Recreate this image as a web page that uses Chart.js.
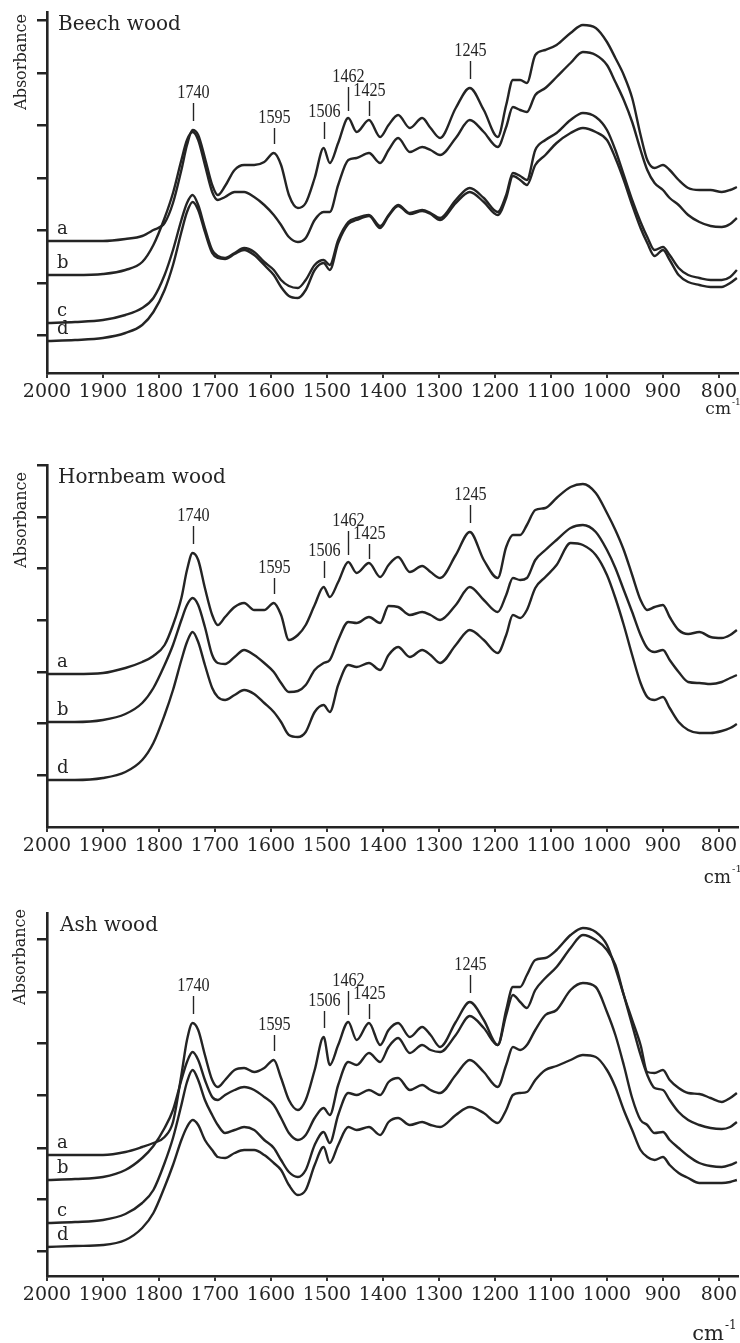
<!DOCTYPE html>
<html>
<head>
<meta charset="utf-8">
<script src="https://cdn.jsdelivr.net/npm/chart.js@4.4.1/dist/chart.umd.min.js"></script>
<style>
  html, body { margin:0; padding:0; background:#fff; }
  body { width:740px; height:1343px; position:relative; overflow:hidden; }
  canvas { position:absolute; left:0; }
</style>
</head>
<body>
<canvas id="c1" width="740" height="430" style="top:0px"></canvas>
<canvas id="c2" width="740" height="460" style="top:430px"></canvas>
<canvas id="c3" width="740" height="453" style="top:890px"></canvas>
<script>
// Wavenumbers (cm-1) shared by every spectrum
const wavenumbers = [2000,1950,1900,1860,1830, 1810,1790,1775,1760,1750, 1740,1730,1718,1705,1695, 1682,1665,1648,1630,1612,
  1595,1582,1568,1552,1538, 1522,1506,1495,1480,1462, 1447,1425,1405,1390,1373, 1352,1330,1315,1298,1270,
  1245,1220,1195,1180,1168, 1155,1143,1128,1110,1090, 1065,1043,1020,1000,985, 970,955,940,928,915,
  900,888,872,855,835, 815,795,780,768];

// Relative absorbance (arbitrary units, offset spectra)
const beechA = [132,132,132,134,137, 143,150,170,203,228, 243,238,215,188,178, 187,203,208,208,211,
  220,208,178,165,170, 195,225,210,230,255, 241,253,236,248,258, 245,255,245,235,265,
  285,263,236,268,293, 293,290,318,323,328, 340,348,345,331,315, 298,275,238,213,205,
  208,203,193,185,183, 183,181,183,186];
const beechB = [98,98,99,103,111, 128,155,180,213,233, 241,233,208,181,173, 176,181,181,176,168,
  158,148,136,131,135, 153,161,161,188,213, 215,220,210,223,235, 221,226,223,218,235,
  253,241,226,246,266, 263,261,278,285,296, 310,321,318,308,291, 273,251,223,203,190,
  183,175,168,158,151, 147,146,149,155];
const beechC = [50,51,53,58,65, 75,98,123,153,170, 178,168,145,123,117, 115,120,125,121,111,
  103,93,87,85,93, 108,113,108,133,151, 155,158,147,158,168, 160,163,160,155,173,
  185,175,161,178,200, 197,193,223,233,240, 253,260,256,243,223, 198,173,151,136,123,
  126,118,105,98,95, 93,93,96,103];
const beechD = [32,33,35,40,48, 61,83,108,141,161, 171,163,141,120,115, 114,119,123,118,108,
  98,86,77,75,83, 103,110,103,130,149, 153,157,145,157,167, 159,162,159,153,170,
  181,171,158,175,197, 193,188,208,218,230, 240,245,241,233,215, 193,168,145,130,117,
  123,113,98,91,88, 86,86,90,95];

const hornbeamA = [153,153,154,159,165, 171,182,202,229,257, 274,267,239,212,202, 210,220,224,217,217,
  224,212,187,192,202, 222,240,230,245,265, 254,264,250,262,270, 255,261,255,249,272,
  295,267,249,280,292, 292,302,317,319,329, 340,343,334,314,297, 277,252,227,217,220,
  222,210,197,193,195, 190,189,192,197];
const hornbeamB = [105,105,107,113,124, 139,162,182,207,222, 229,222,200,172,164, 163,170,177,172,164,
  155,144,135,136,142, 157,164,167,187,205, 204,210,204,221,220, 212,215,212,207,222,
  240,227,215,232,249, 247,249,267,277,287, 299,302,295,277,259, 237,215,192,179,175,
  177,167,155,145,144, 143,145,149,152];
const hornbeamD = [47,47,49,55,67, 84,112,137,167,185, 195,185,162,139,130, 127,132,137,133,124,
  115,105,92,90,95, 115,122,115,142,162, 160,164,157,172,180, 170,177,172,164,182,
  197,187,174,192,212, 209,217,239,250,262, 284,282,272,252,229, 202,172,144,130,127,
  130,119,105,97,94, 94,96,99,103];

const ashA = [121,121,121,124,129, 133,139,154,201,236, 253,246,221,196,189, 196,206,208,204,208,
  216,198,176,166,176, 206,239,211,231,254, 236,253,231,246,253, 239,249,241,229,254,
  274,256,231,266,289, 289,301,316,318,326, 341,348,344,331,308, 281,256,231,204,203,
  206,196,188,183,182, 178,174,178,183];
const ashB = [96,97,99,106,118, 130,148,166,196,214, 224,216,196,179,176, 181,186,189,186,179,
  171,158,143,136,141, 158,168,161,191,214, 211,223,214,229,238, 223,231,226,224,241,
  260,248,231,261,281, 274,268,286,298,309, 328,341,336,326,311, 281,251,221,201,188,
  186,176,164,156,151, 148,147,149,154];
const ashC = [53,54,56,62,73, 86,113,138,171,194, 206,196,176,161,151, 143,146,149,146,136,
  128,116,104,99,106, 131,144,133,161,183, 181,186,181,194,198, 186,191,186,183,201,
  216,204,189,211,229, 226,231,246,261,266, 286,293,289,264,241, 211,178,156,151,143,
  144,136,128,120,113, 110,109,111,114];
const ashD = [29,30,31,36,48, 63,89,111,136,149, 156,151,136,126,119, 118,123,126,126,121,
  113,106,91,81,86, 111,129,113,131,149, 146,149,141,154,158, 151,154,151,149,161,
  169,163,153,166,181, 183,184,196,206,210, 216,221,219,206,189, 166,146,126,119,116,
  119,111,103,98,93, 93,93,94,96];

// Axis ticks
const xTicks = [800,900,1000,1100,1200,1300,1400,1500,1600,1700,1800,1900,2000];
const beechYTicks = [38,90,143,195,248,300,353];
const hornbeamYTicks = [52,104,155,207,259,310,362];
const ashYTicks = [25,77,128,181,233,284,337];

// Band annotations
const peakWavenumbers = [1740,1595,1506,1462,1425,1245];
const peakLabels = ['1740','1595','1506','1462','1425','1245'];
const peakLineLength = [18,16,17,24,15,18];
const peakGap = [9,9,9,7,4,9];

const INK = '#242424';

function valueAt(values, w) {
  for (let i = 0; i < wavenumbers.length - 1; i++) {
    const a = wavenumbers[i], b = wavenumbers[i+1];
    if (w <= a && w >= b) {
      const t = (a - w) / (a - b);
      return values[i] + t * (values[i+1] - values[i]);
    }
  }
  return values[values.length-1];
}

function annotPlugin(cfg) {
  return {
    id: 'annot_' + cfg.id,
    afterDraw(chart) {
      const ctx = chart.ctx, xs = chart.scales.x, ys = chart.scales.y;
      ctx.save();
      ctx.fillStyle = INK;
      ctx.strokeStyle = INK;
      // Title
      ctx.font = '20px "DejaVu Serif"';
      ctx.textAlign = 'left';
      ctx.textBaseline = 'middle';
      ctx.fillText(cfg.title, cfg.titleX, cfg.titleY);
      // Absorbance
      ctx.save();
      ctx.translate(cfg.absX, cfg.absY);
      ctx.rotate(-Math.PI / 2);
      ctx.font = '16px "DejaVu Serif"';
      ctx.textAlign = 'center';
      ctx.fillText('Absorbance', 0, 0);
      ctx.restore();
      // cm-1
      ctx.font = cfg.cmSize + 'px "DejaVu Serif"';
      ctx.textAlign = 'right';
      ctx.fillText('cm', cfg.cmRight, cfg.cmY);
      ctx.font = Math.round(cfg.cmSize * 0.55) + 'px "DejaVu Serif"';
      ctx.textAlign = 'left';
      ctx.fillText('-1', cfg.cmRight + 1, cfg.cmY - cfg.cmSize * 0.45);
      // Curve letters
      ctx.font = '18px "DejaVu Serif"';
      ctx.textAlign = 'left';
      cfg.series.forEach(s => {
        const y = ys.getPixelForValue(s.values[0]);
        ctx.fillText(s.name, xs.getPixelForValue(1982), y - 12);
      });
      // Peak labels
      const top = cfg.series[0].values;
      ctx.lineWidth = 1.4;
      peakWavenumbers.forEach((w, i) => {
        const x = Math.round(xs.getPixelForValue(w)) + 0.5;
        const yc = ys.getPixelForValue(valueAt(top, w));
        const yb = yc - peakGap[i];
        const yt = yb - peakLineLength[i];
        ctx.beginPath();
        ctx.moveTo(x, yb);
        ctx.lineTo(x, yt);
        ctx.stroke();
        ctx.save();
        ctx.translate(x, yt - 10);
        ctx.scale(0.85, 1);
        ctx.font = '19px "Liberation Serif"';
        ctx.textAlign = 'center';
        ctx.fillText(peakLabels[i], 0, 0);
        ctx.restore();
      });
      ctx.restore();
    }
  };
}

function makeChart(canvasId, cfg) {
  return new Chart(document.getElementById(canvasId), {
    type: 'line',
    data: {
      datasets: cfg.series.map(s => ({
        label: s.name,
        data: wavenumbers.map((w, i) => ({ x: w, y: s.values[i] })),
        borderColor: INK,
        borderWidth: 2.4,
        pointRadius: 0,
        cubicInterpolationMode: 'monotone',
        fill: false
      }))
    },
    options: {
      responsive: false,
      animation: false,
      devicePixelRatio: 1,
      layout: { padding: { top: cfg.padTop, right: 2, left: 0, bottom: 0 } },
      plugins: { legend: { display: false }, tooltip: { enabled: false } },
      scales: {
        x: {
          type: 'linear', reverse: true, min: 766, max: 2000,
          afterBuildTicks: s => { s.ticks = xTicks.map(v => ({ value: v })); },
          afterFit: s => { s.height = cfg.xAxisHeight; },
          grid: { drawOnChartArea: false, drawTicks: true, tickLength: 5, lineWidth: 2, color: '#333' },
          border: { display: true, width: 2.6, color: INK },
          ticks: { autoSkip: false, maxRotation: 0, minRotation: 0, padding: 3, color: INK,
                   font: { family: 'DejaVu Serif', size: 19 }, callback: v => String(v) }
        },
        y: {
          type: 'linear', min: 0, max: cfg.yMax,
          afterBuildTicks: s => { s.ticks = cfg.yTicks.map(v => ({ value: v })); },
          afterFit: s => { s.width = 47; },
          grid: { drawOnChartArea: false, drawTicks: true, tickLength: 10, lineWidth: 2.5, color: INK },
          border: { display: true, width: 2.6, color: INK },
          ticks: { display: false }
        }
      }
    },
    plugins: [annotPlugin(cfg)]
  });
}

makeChart('c1', {
  id: 'beech', title: 'Beech wood', titleX: 58, titleY: 25,
  absX: 22, absY: 62, cmRight: 731, cmY: 410, cmSize: 17,
  padTop: 12, xAxisHeight: 57, yMax: 361, yTicks: beechYTicks,
  series: [ {name:'a', values: beechA}, {name:'b', values: beechB}, {name:'c', values: beechC}, {name:'d', values: beechD} ]
});
makeChart('c2', {
  id: 'hornbeam', title: 'Hornbeam wood', titleX: 58, titleY: 48,
  absX: 22, absY: 90, cmRight: 731, cmY: 448, cmSize: 18,
  padTop: 35, xAxisHeight: 63, yMax: 362, yTicks: hornbeamYTicks,
  series: [ {name:'a', values: hornbeamA}, {name:'b', values: hornbeamB}, {name:'d', values: hornbeamD} ]
});
makeChart('c3', {
  id: 'ash', title: 'Ash wood', titleX: 60, titleY: 36,
  absX: 21, absY: 67, cmRight: 724, cmY: 445, cmSize: 21,
  padTop: 23, xAxisHeight: 67, yMax: 363, yTicks: ashYTicks,
  series: [ {name:'a', values: ashA}, {name:'b', values: ashB}, {name:'c', values: ashC}, {name:'d', values: ashD} ]
});
</script>
</body>
</html>
